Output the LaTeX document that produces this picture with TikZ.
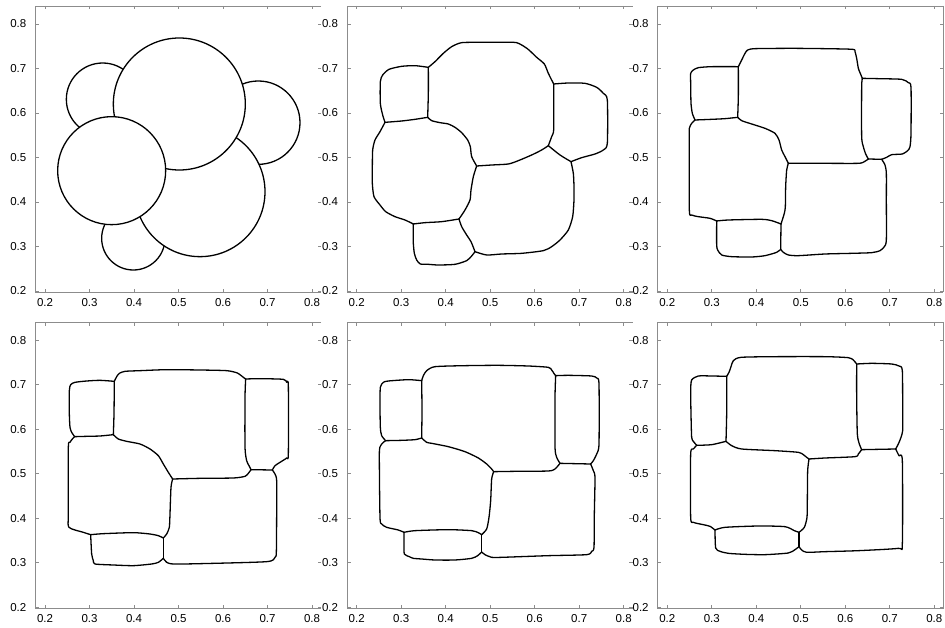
\documentclass[tikz,border=0pt]{standalone}
\usepackage{fontspec}
\setmainfont{Liberation Sans}
\tikzset{
  frame/.style={draw=black!45, line width=0.7pt},
  cell/.style={draw=black, line width=1.3pt, line join=round, line cap=round},
  disc/.style={cell, fill=white},
  lbl/.style={font=\fontsize{11.5}{12}\selectfont, inner sep=0pt, text=black},
  sm/.style={smooth, tension=0.4},
  zoomed/.style={x=0.33333pt, y=-0.33333pt}
}
% #1 = x pixel of tick 0.2, #2 = y pixel of level 0.2, #3 = draw right edge, #4 = panel id
\newcommand\plotframe[4]{%
  \pgfmathsetmacro\fl{#1-9.5}%
  \pgfmathsetmacro\fr{#1+276}%
  \pgfmathsetmacro\fb{#2+1.5}%
  \pgfmathsetmacro\ft{#2-285}%
  \draw[frame] (\fr,\ft) -- (\fl,\ft) -- (\fl,\fb) -- (\fr,\fb);
  \ifnum#3=1 \draw[frame] (\fr,\ft) -- (\fr,\fb);\fi
  \foreach \i/\lab in {0/0.2,1/0.3,2/0.4,3/0.5,4/0.6,5/0.7,6/0.8}{
    \pgfmathsetmacro\tx{#1+44.5*\i}
    \pgfmathsetmacro\ty{#2-44.5*\i}
    \draw[frame] (\tx,\fb) -- ++(0,-3.5);
    \draw[frame] (\tx,\ft) -- ++(0,3.5);
    \draw[frame] (\fl,\ty) -- ++(3.5,0);
    \draw[frame] (\fr,\ty) -- ++(-3.5,0);
    \node[lbl] (xl#4\i) at (\tx,\fb+10) {\lab};
    \node[lbl,anchor=east] (yl#4\i) at (\fl-9,\ty) {\lab};
  }%
}
\begin{document}
\begin{tikzpicture}[x=1pt,y=-1pt]
\useasboundingbox (0,0) rectangle (945,628);
\fill[white] (0,0) rectangle (945,628);

% ---------- axes ----------
\plotframe{45}{291}{0}{a}
\plotframe{356.7}{291}{0}{b}
\plotframe{667.3}{291}{1}{c}
\plotframe{45}{607.3}{0}{d}
\plotframe{356.7}{607.3}{0}{e}
\plotframe{667.3}{607.3}{1}{f}

% ---------- panel 1: circles ----------
\begin{scope}[zoomed]
  \draw[disc] (308,298) circle[radius=36.33pt];
  \draw[disc] (775,368) circle[radius=41.67pt];
  \draw[disc] (400,715) circle[radius=31.67pt];
  \draw[disc] (600,575) circle[radius=65pt];
  \draw[disc] (538,312) circle[radius=66pt];
  \draw[disc] (335,512) circle[radius=54pt];
\end{scope}

% ---------- panel 2 ----------
\begin{scope}[shift={(315,0)},zoomed]
  \draw[cell] plot[sm] coordinates {(210,367) (203,345) (196,310) (196,245) (203,225) (222,208) (260,199) (300,197) (340,202)};
  \draw[cell] plot[sm] coordinates {(340,202) (360,185) (385,160) (410,140) (440,128) (500,127) (560,127) (605,128) (637,146) (665,172) (688,192) (700,220) (716,252)};
  \draw[cell] plot[sm] coordinates {(716,252) (760,249) (810,250) (845,262) (865,280) (877,300) (877,430) (865,450) (840,462) (800,473) (768,485)};
  \draw[cell] plot[sm] coordinates {(768,485) (775,520) (777,560) (777,600) (773,650) (760,690) (735,720) (710,740) (685,752) (620,760) (560,762) (515,765) (480,755)};
  \draw[cell] plot[sm] coordinates {(480,755) (470,768) (455,782) (420,793) (370,795) (340,793) (316,792) (305,780) (298,760) (295,730) (295,700) (295,672)};
  \draw[cell] plot[sm] coordinates {(295,672) (270,660) (240,650) (212,635) (195,615) (177,590) (172,550) (172,500) (173,450) (180,420) (195,395) (210,367)};
  \draw[cell] plot[sm] coordinates {(340,202) (340,280) (338,352)};
  \draw[cell] plot[sm] coordinates {(210,367) (260,363) (300,358) (338,352)};
  \draw[cell] plot[sm] coordinates {(338,352) (350,362) (375,368) (400,372) (420,382) (440,398) (458,420) (466,440) (470,470) (485,498)};
  \draw[cell] plot[sm] coordinates {(485,498) (475,530) (468,570) (465,600) (450,630) (432,657)};
  \draw[cell] plot[sm] coordinates {(295,672) (330,668) (380,665) (432,657)};
  \draw[cell] plot[sm] coordinates {(432,657) (440,680) (455,705) (468,725) (480,755)};
  \draw[cell] plot[sm] coordinates {(485,498) (530,495) (580,492) (610,482) (650,465) (680,450) (700,437)};
  \draw[cell] plot[sm] coordinates {(716,252) (716,300) (716,390) (710,410) (700,437)};
  \draw[cell] plot[sm] coordinates {(700,437) (735,465) (768,485)};
\end{scope}

% ---------- panel 3 ----------
\begin{scope}[shift={(625,0)},zoomed]
  \draw[cell] plot[sm] coordinates {(210,360) (202,340) (198,310) (197,250) (197,220) (205,210) (220,203) (260,200) (340,200)};
  \draw[cell] plot[sm] coordinates {(340,200) (350,180) (360,160) (368,150) (390,146) (500,145) (600,146) (683,148) (690,155) (695,175) (700,205) (705,218) (712,235)};
  \draw[cell] plot[sm] coordinates {(712,235) (760,236) (830,238) (850,248) (858,262) (858,400) (855,440) (848,452) (832,462) (800,464) (785,472) (770,478)};
  \draw[cell] plot[sm] coordinates {(770,478) (780,495) (784,520) (784,600) (784,720) (778,740) (765,752) (740,758) (680,760) (600,762) (520,767) (490,765) (475,757) (467,748)};
  \draw[cell] plot[sm] coordinates {(467,748) (455,757) (420,767) (380,771) (320,770) (290,765) (278,750) (275,735) (275,663)};
  \draw[cell] plot[sm] coordinates {(275,663) (255,655) (220,650) (200,645) (193,630) (193,420) (193,385) (200,370) (210,360)};
  \draw[cell] plot[sm] coordinates {(340,200) (340,290) (338,352)};
  \draw[cell] plot[sm] coordinates {(210,360) (260,358) (300,356) (338,352)};
  \draw[cell] plot[sm] coordinates {(338,352) (350,362) (380,372) (420,385) (450,400) (462,420) (470,450) (480,470) (490,490)};
  \draw[cell] plot[sm] coordinates {(490,490) (600,490) (700,490) (718,485) (730,477)};
  \draw[cell] plot[sm] coordinates {(712,235) (710,260) (710,410) (715,440) (722,462) (730,477)};
  \draw[cell] plot[sm] coordinates {(730,477) (770,478)};
  \draw[cell] plot[sm] coordinates {(490,490) (485,510) (482,560) (481,620) (478,640) (468,672)};
  \draw[cell] plot[sm] coordinates {(275,663) (310,660) (410,658) (440,662) (468,672)};
  \draw[cell] plot[sm] coordinates {(468,672) (467,748)};
\end{scope}

% ---------- panel 4 ----------
\begin{scope}[shift={(0,314)},zoomed]
  \draw[cell] plot[sm] coordinates {(224,368) (215,355) (210,340) (208,300) (208,230) (212,212) (225,205) (260,201) (300,199) (343,202)};
  \draw[cell] plot[sm] coordinates {(343,202) (350,188) (358,178) (375,172) (420,170) (500,167) (600,168) (680,170) (712,177) (730,190) (737,195)};
  \draw[cell] plot[sm] coordinates {(737,195) (780,194) (850,196) (860,205) (865,215) (865,420) (860,432) (840,445) (825,455) (817,468)};
  \draw[cell] plot[sm] coordinates {(817,468) (825,480) (830,500) (830,600) (829,715) (825,730) (800,743) (600,749) (520,750) (500,745) (490,733)};
  \draw[cell] plot[sm] coordinates {(490,733) (475,745) (455,750) (400,755) (340,753) (285,750) (280,740) (275,720) (272,662)};
  \draw[cell] plot[sm] coordinates {(272,662) (250,655) (207,640) (205,600) (205,400) (210,385) (217,375) (224,368)};
  \draw[cell] plot[sm] coordinates {(343,202) (342,300) (340,362)};
  \draw[cell] plot[sm] coordinates {(224,368) (260,367) (300,366) (340,362)};
  \draw[cell] plot[sm] coordinates {(340,362) (355,375) (380,382) (420,390) (450,405) (475,425) (490,450) (505,475) (518,495)};
  \draw[cell] plot[sm] coordinates {(518,495) (600,493) (700,492) (735,487) (745,478) (753,467)};
  \draw[cell] plot[sm] coordinates {(737,195) (735,250) (735,400) (740,440) (747,455) (753,467)};
  \draw[cell] plot[sm] coordinates {(753,467) (817,468)};
  \draw[cell] plot[sm] coordinates {(518,495) (513,520) (510,600) (508,640) (500,660) (490,672)};
  \draw[cell] plot[sm] coordinates {(272,662) (310,659) (400,656) (450,660) (475,665) (490,672)};
  \draw[cell] plot[sm] coordinates {(490,672) (490,733)};
\end{scope}

% ---------- panel 5 ----------
\begin{scope}[shift={(315,314)},zoomed]
  \draw[cell] plot[sm] coordinates {(212,380) (200,365) (196,340) (195,270) (196,220) (205,205) (220,201) (280,197) (320,200)};
  \draw[cell] plot[sm] coordinates {(320,200) (325,185) (335,170) (360,158) (450,155) (550,154) (640,156) (700,160) (710,168) (718,180) (722,185)};
  \draw[cell] plot[sm] coordinates {(722,185) (760,184) (830,186) (845,192) (852,210) (852,390) (845,420) (835,440) (827,450)};
  \draw[cell] plot[sm] coordinates {(827,450) (835,470) (840,490) (838,600) (837,700) (830,712) (815,722) (700,725) (560,730) (530,730) (510,722) (500,714)};
  \draw[cell] plot[sm] coordinates {(500,714) (488,725) (470,733) (420,738) (360,738) (320,735) (295,733) (283,728) (268,720) (267,690) (267,655)};
  \draw[cell] plot[sm] coordinates {(267,655) (250,648) (215,640) (200,630) (195,610) (193,420) (197,395) (205,385) (212,380)};
  \draw[cell] plot[sm] coordinates {(320,200) (321,290) (320,372)};
  \draw[cell] plot[sm] coordinates {(212,380) (260,379) (300,377) (320,372)};
  \draw[cell] plot[sm] coordinates {(320,372) (335,385) (350,388) (400,398) (450,413) (490,432) (515,450) (530,465) (536,473)};
  \draw[cell] plot[sm] coordinates {(536,473) (600,472) (700,471) (720,465) (735,448)};
  \draw[cell] plot[sm] coordinates {(722,185) (720,250) (720,400) (725,430) (735,448)};
  \draw[cell] plot[sm] coordinates {(735,448) (827,450)};
  \draw[cell] plot[sm] coordinates {(536,473) (530,495) (527,560) (522,610) (515,645) (500,662)};
  \draw[cell] plot[sm] coordinates {(267,655) (300,650) (400,647) (470,650) (490,656) (500,662)};
  \draw[cell] plot[sm] coordinates {(500,662) (500,714)};
\end{scope}

% ---------- panel 6 ----------
\begin{scope}[shift={(625,314)},zoomed]
  \draw[cell] plot[sm] coordinates {(215,394) (205,382) (200,370) (198,300) (197,230) (200,198) (220,186) (260,186) (305,187)};
  \draw[cell] plot[sm] coordinates {(305,187) (312,175) (318,158) (325,140) (348,130) (450,128) (600,128) (670,131) (685,138) (695,150)};
  \draw[cell] plot[sm] coordinates {(695,150) (740,148) (800,150) (822,156) (832,170) (833,300) (833,350) (828,370) (820,390) (812,405)};
  \draw[cell] plot[sm] coordinates {(812,405) (822,425) (832,440) (832,690) (820,703) (700,710) (600,713) (545,715) (530,708) (522,698)};
  \draw[cell] plot[sm] coordinates {(522,698) (510,707) (490,717) (420,722) (360,721) (310,718) (285,712) (272,702) (270,648)};
  \draw[cell] plot[sm] coordinates {(270,648) (255,637) (235,632) (205,625) (197,610) (197,420) (205,405) (215,394)};
  \draw[cell] plot[sm] coordinates {(305,187) (305,300) (303,382)};
  \draw[cell] plot[sm] coordinates {(215,394) (260,392) (303,382)};
  \draw[cell] plot[sm] coordinates {(303,382) (320,395) (350,405) (450,410) (520,415) (535,422) (545,430) (552,435)};
  \draw[cell] plot[sm] coordinates {(552,435) (600,432) (690,428) (700,420) (710,407)};
  \draw[cell] plot[sm] coordinates {(695,150) (695,250) (697,360) (703,390) (710,407)};
  \draw[cell] plot[sm] coordinates {(710,407) (812,405)};
  \draw[cell] plot[sm] coordinates {(552,435) (548,470) (547,560) (546,610) (538,640) (522,655)};
  \draw[cell] plot[sm] coordinates {(270,648) (300,640) (400,636) (480,638) (508,650) (522,655)};
  \draw[cell] plot[sm] coordinates {(522,655) (522,698)};
\end{scope}
\end{tikzpicture}
\end{document}
